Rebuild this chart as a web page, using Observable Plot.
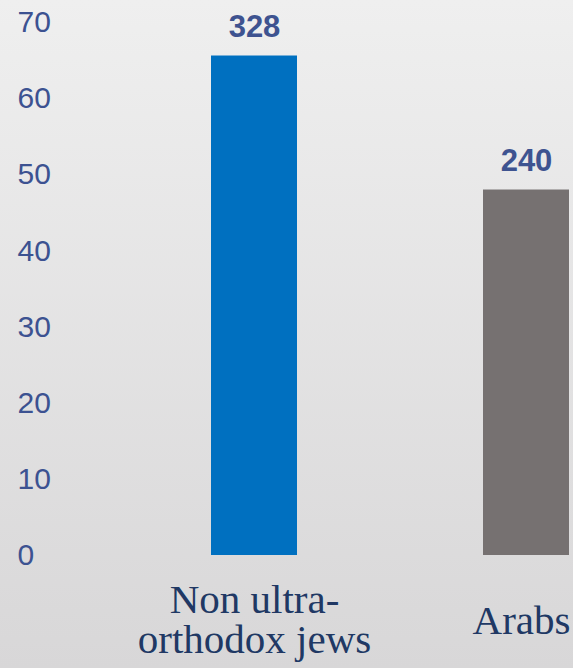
<!DOCTYPE html>
<html>
<head>
<meta charset="utf-8">
<script src="https://cdn.jsdelivr.net/npm/d3@7"></script>
<script src="https://cdn.jsdelivr.net/npm/@observablehq/plot@0.6"></script>
<style>
  html, body { margin: 0; padding: 0; }
  body { width: 573px; height: 668px; overflow: hidden; background: linear-gradient(#efefef, #d8d7d8); }
  svg { display: block; background: transparent !important; }
</style>
</head>
<body>
<div id="chart"></div>
<script>
const categories = ["Non ultra-\northodox jews", "Arabs"];
const values = [65.6, 48];
const barLabels = ["328", "240"];
const barColors = ["#0070C0", "#767171"];
const yTicks = [0, 10, 20, 30, 40, 50, 60, 70];

const data = categories.map((c, i) => ({cat: c, value: values[i], label: barLabels[i], color: barColors[i]}));
const catFont = {fill: "#203864", fontSize: 41, fontFamily: "Liberation Serif, Times New Roman, serif",
  frameAnchor: "bottom", text: "cat", x: "cat", lineAnchor: "middle", lineHeight: 0.98};

const chart = Plot.plot({
  width: 573,
  height: 668,
  marginTop: 22,
  marginBottom: 113,
  marginLeft: 0,
  marginRight: 0,
  style: {background: "transparent", overflow: "hidden"},
  x: {domain: categories, range: [211, 569], paddingInner: 0.684, paddingOuter: 0, axis: null},
  y: {domain: [0, 70], axis: null},
  marks: [
    Plot.barY(data, {x: "cat", y: "value", fill: "color"}),
    Plot.text(data, {x: "cat", y: "value", text: "label", dy: -19, lineAnchor: "bottom",
      fill: "#3E5390", fontSize: 31, fontWeight: "bold", fontFamily: "Liberation Sans, Arial, sans-serif"}),
    Plot.axisY({ticks: yTicks, tickSize: 0, tickPadding: 0, dx: 17, textAnchor: "start", label: null,
      fill: "#3C5291", fontSize: 30, fontFamily: "Liberation Sans, Arial, sans-serif", tickFormat: d => String(d)}),
    Plot.text(data.slice(0, 1), {...catFont, dy: 65}),
    Plot.text(data.slice(1), {...catFont, dy: 66, dx: -5})
  ]
});
document.getElementById("chart").appendChild(chart);
</script>
</body>
</html>
